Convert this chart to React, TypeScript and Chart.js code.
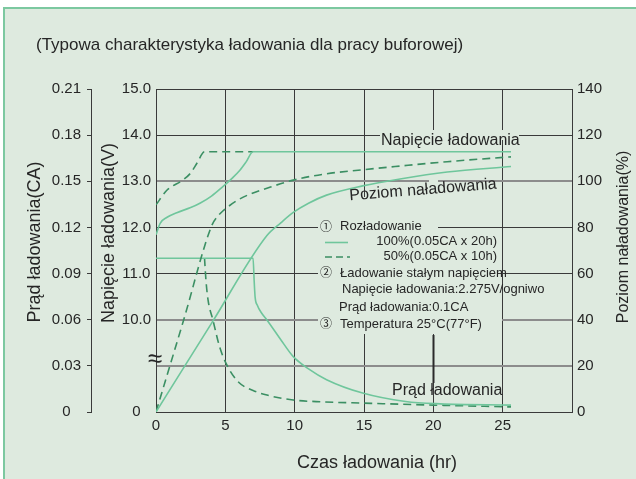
import React, { useEffect, useRef } from 'react';
import { Chart, registerables } from 'chart.js';

Chart.register(...registerables);

// ---------- data ----------
const xTickValues = [0, 5, 10, 15, 20, 25, 30];
const xTickLabels = ['0', '5', '10', '15', '20', '25', ''];

const currentTickValues = [0, 0.03, 0.06, 0.09, 0.12, 0.15, 0.18, 0.21];
const currentTickLabels = ['0', '0.03', '0.06', '0.09', '0.12', '0.15', '0.18', '0.21'];

const voltageTickValues = [8, 9, 10, 11, 12, 13, 14, 15];
const voltageTickLabels = ['0', '', '10.0', '11.0', '12.0', '13.0', '14.0', '15.0'];

const levelTickValues = [0, 20, 40, 60, 80, 100, 120, 140];
const levelTickLabels = ['0', '20', '40', '60', '80', '100', '120', '140'];

// Charge level (%), 100% discharge
const levelFullHours = [0, 4, 8, 9, 9.9, 11, 12.3, 14.9, 17.6, 21, 25.6];
const levelFullPct = [0, 38.4, 76.5, 82, 86.5, 90.5, 94, 98, 101, 104, 106.4];
// Charge level (%), 50% discharge
const levelHalfHours = [0, 2, 4, 4.4, 4.8, 5.8, 6.8, 8, 9.9, 12, 14.9, 17.6, 21, 25.6];
const levelHalfPct = [0, 40, 80.5, 84.5, 87, 91.5, 94.5, 97, 100.5, 103, 105, 106.6, 108.5, 110.6];

// Charging voltage (V)
const voltFullHours = [0, 0.3, 0.8, 1.5, 2.5, 3.2, 4, 4.8, 5.5, 6.05, 6.5, 7.0, 25.6];
const voltFullV = [11.84, 12.09, 12.22, 12.32, 12.43, 12.53, 12.68, 12.88, 13.07, 13.24, 13.42, 13.64, 13.64];
const voltHalfHours = [0, 0.8, 1.95, 2.5, 2.95, 3.5, 7.0];
const voltHalfV = [12.49, 12.81, 13.03, 13.18, 13.39, 13.64, 13.64];

// Charging current (CA)
const curFullHours = [0, 7.0, 7.08, 7.15, 7.3, 7.6, 8, 9, 9.9, 11, 12.3, 14.9, 18, 20.5, 25.6];
const curFullCA = [0.1, 0.1, 0.085, 0.0745, 0.0695, 0.0645, 0.0598, 0.047, 0.036, 0.028, 0.021, 0.0123, 0.0068, 0.0053, 0.0045];
const curHalfHours = [3.5, 3.6, 3.75, 4.1, 4.6, 5.2, 6, 7, 8, 9.9, 12, 14.9, 20, 25.6];
const curHalfCA = [0.1, 0.086, 0.073, 0.06, 0.042, 0.029, 0.019, 0.014, 0.011, 0.0078, 0.0066, 0.0058, 0.0045, 0.0033];

// ---------- style ----------
const FONT = '"Liberation Sans", Arial, Helvetica, sans-serif';
const SYM_FONT = '"Noto Sans CJK JP", "DejaVu Sans", sans-serif';
const BG = '#deeadf';
const BORDER = '#7cc8a0';
const SOLID = '#6fc69c';
const DASHED = '#3b8f63';
const GRID = '#3a3a3a';
const GRID_GREY = '#8c8c8c';
const TEXT = '#262626';

const pts = (xs: number[], ys: number[]) => xs.map((x, i) => ({ x, y: ys[i] }));

function text(c: CanvasRenderingContext2D, s: string, x: number, y: number, size: number,
  align: CanvasTextAlign = 'left', family = FONT) {
  c.font = `${size}px ${family}`;
  c.fillStyle = TEXT;
  c.textAlign = align;
  c.textBaseline = 'middle';
  c.fillText(s, x, y);
}

function rtext(c: CanvasRenderingContext2D, s: string, x: number, y: number, size: number, angle: number) {
  c.save();
  c.translate(x, y);
  c.rotate(angle);
  c.font = `${size}px ${FONT}`;
  c.fillStyle = TEXT;
  c.textAlign = 'center';
  c.textBaseline = 'middle';
  c.fillText(s, 0, 0);
  c.restore();
}

const decor = {
  id: 'decor',
  beforeDraw(chart: any) {
    const c = chart.ctx as CanvasRenderingContext2D;
    c.save();
    c.fillStyle = '#ffffff';
    c.fillRect(0, 0, chart.width, chart.height);
    c.fillStyle = BG;
    c.fillRect(4, 8, chart.width, chart.height);
    c.strokeStyle = BORDER;
    c.lineWidth = 2;
    c.beginPath();
    c.moveTo(4, chart.height + 5);
    c.lineTo(4, 8);
    c.lineTo(chart.width + 5, 8);
    c.stroke();
    c.restore();
  },
  beforeDatasetsDraw(chart: any) {
    const c = chart.ctx as CanvasRenderingContext2D;
    c.save();
    c.fillStyle = BG;
    c.fillRect(429, 136, 9, 198);   // vertical 20h line behind notes
    c.fillRect(360, 197, 8, 137);   // vertical 15h line behind legend
    c.fillRect(380, 130, 139, 10);  // 14.0 line behind label
    c.fillRect(318, 222, 120, 10);  // 12.0 line
    c.fillRect(318, 268, 180, 11);  // 11.0 line
    c.fillRect(318, 315, 184, 10);  // 10.0 line
    c.restore();
  },
  afterDatasetsDraw(chart: any) {
    const c = chart.ctx as CanvasRenderingContext2D;
    c.save();
    // title
    text(c, '(Typowa charakterystyka ładowania dla pracy buforowej)', 36, 45, 17);
    // axis titles
    rtext(c, 'Prąd ładowania(CA)', 35, 242, 18, -Math.PI / 2);
    rtext(c, 'Napięcie ładowania(V)', 109, 233, 18, -Math.PI / 2);
    rtext(c, 'Poziom naładowania(%)', 624, 237, 16, -Math.PI / 2);
    text(c, 'Czas ładowania (hr)', 377, 463, 18, 'center');
    // break mark
    text(c, '≈', 155, 360, 26, 'center');
    // curve annotations
    text(c, 'Napięcie ładowania', 381, 141, 16);
    rtext(c, 'Poziom naładowania', 423, 190, 16, -4.6 * Math.PI / 180);
    text(c, 'Prąd ładowania', 392, 391, 16);
    c.strokeStyle = '#2a2a2a';
    c.lineWidth = 2;
    c.beginPath();
    c.moveTo(433.5, 335);
    c.lineTo(433.5, 383);
    c.stroke();
    // legend block
    text(c, '①', 320, 226, 12, 'left', SYM_FONT);
    text(c, 'Rozładowanie', 340, 226, 13);
    c.lineWidth = 1.6;
    c.strokeStyle = SOLID;
    c.beginPath(); c.moveTo(325, 242.5); c.lineTo(348, 242.5); c.stroke();
    text(c, '100%(0.05CA x 20h)', 497, 241, 13, 'right');
    c.strokeStyle = DASHED;
    c.setLineDash([7, 4]);
    c.beginPath(); c.moveTo(325, 257); c.lineTo(350, 257); c.stroke();
    c.setLineDash([]);
    text(c, '50%(0.05CA x 10h)', 497, 256, 13, 'right');
    text(c, '②', 320, 272, 12, 'left', SYM_FONT);
    text(c, 'Ładowanie stałym napięciem', 340, 273, 13);
    text(c, 'Napięcie ładowania:2.275V/ogniwo', 342, 289, 13);
    text(c, 'Prąd ładowania:0.1CA', 339, 307, 13);
    text(c, '③', 320, 323, 12, 'left', SYM_FONT);
    text(c, 'Temperatura 25°C(77°F)', 340, 324, 13);
    c.restore();
  },
};

const line = (data: any[], axis: string, dashed: boolean) => ({
  data,
  yAxisID: axis,
  borderColor: dashed ? DASHED : SOLID,
  borderWidth: 1.6,
  borderDash: dashed ? [8, 5] : [],
  pointRadius: 0,
  fill: false,
  cubicInterpolationMode: 'monotone' as const,
});

export default function App() {
  const ref = useRef<HTMLCanvasElement>(null);
  useEffect(() => {
    document.body.style.margin = '0';
    const canvas = ref.current!;
    const tickFont = { family: FONT, size: 15 };
    const chart = new Chart(canvas, {
      type: 'line',
      data: {
        datasets: [
          line(pts(levelFullHours, levelFullPct), 'yP', false),
          line(pts(levelHalfHours, levelHalfPct), 'yP', true),
          line(pts(voltFullHours, voltFullV), 'yV', false),
          line(pts(voltHalfHours, voltHalfV), 'yV', true),
          line(pts(curFullHours, curFullCA), 'yI', false),
          line(pts(curHalfHours, curHalfCA), 'yI', true),
        ] as any,
      },
      options: {
        responsive: false,
        animation: false,
        devicePixelRatio: 1,
        layout: { padding: { top: 89, left: 0, right: 0, bottom: 0 } },
        plugins: { legend: { display: false }, tooltip: { enabled: false }, title: { display: false } },
        scales: {
          x: {
            type: 'linear',
            position: 'bottom',
            min: 0,
            max: 30,
            afterBuildTicks: (s: any) => { s.ticks = xTickValues.map((v) => ({ value: v })); },
            afterFit: (s: any) => { s.height = 67; },
            ticks: {
              callback: (_v: any, i: number) => xTickLabels[i],
              font: tickFont, color: TEXT, padding: 5, autoSkip: false, maxRotation: 0,
            },
            grid: { color: GRID, lineWidth: 1, drawTicks: false },
            border: { color: GRID, width: 1 },
          },
          yI: {
            type: 'linear',
            position: 'left',
            weight: 1,
            min: 0,
            max: 0.21,
            afterBuildTicks: (s: any) => { s.ticks = currentTickValues.map((v) => ({ value: v })); },
            afterFit: (s: any) => { s.width = 91; },
            ticks: {
              callback: (_v: any, i: number) => currentTickLabels[i],
              font: tickFont, color: TEXT, padding: 6, crossAlign: 'center', autoSkip: false,
            },
            grid: { drawOnChartArea: false, drawTicks: true, tickLength: 4, color: GRID },
            border: { color: GRID, width: 1 },
          },
          yV: {
            type: 'linear',
            position: 'left',
            weight: 0,
            min: 8,
            max: 15,
            afterBuildTicks: (s: any) => { s.ticks = voltageTickValues.map((v) => ({ value: v })); },
            afterFit: (s: any) => { s.width = 65; },
            ticks: {
              callback: (_v: any, i: number) => voltageTickLabels[i],
              font: tickFont, color: TEXT, padding: 5, crossAlign: 'center', autoSkip: false,
            },
            grid: {
              drawTicks: false,
              color: (ctx: any) => ([13, 10, 9].includes(ctx.tick?.value) ? GRID_GREY : GRID),
              lineWidth: (ctx: any) => ([13, 10, 9].includes(ctx.tick?.value) ? 2 : 1),
            },
            border: { color: GRID, width: 1 },
          },
          yP: {
            type: 'linear',
            position: 'right',
            min: 0,
            max: 140,
            afterBuildTicks: (s: any) => { s.ticks = levelTickValues.map((v) => ({ value: v })); },
            afterFit: (s: any) => { s.width = 64; },
            ticks: {
              callback: (_v: any, i: number) => levelTickLabels[i],
              font: tickFont, color: TEXT, padding: 5, autoSkip: false,
            },
            grid: { drawOnChartArea: false, drawTicks: false, color: GRID },
            border: { color: GRID, width: 1 },
          },
        },
      } as any,
      plugins: [decor],
    });
    return () => chart.destroy();
  }, []);
  return <canvas ref={ref} width={636} height={479} style={{ display: 'block' }} />;
}
